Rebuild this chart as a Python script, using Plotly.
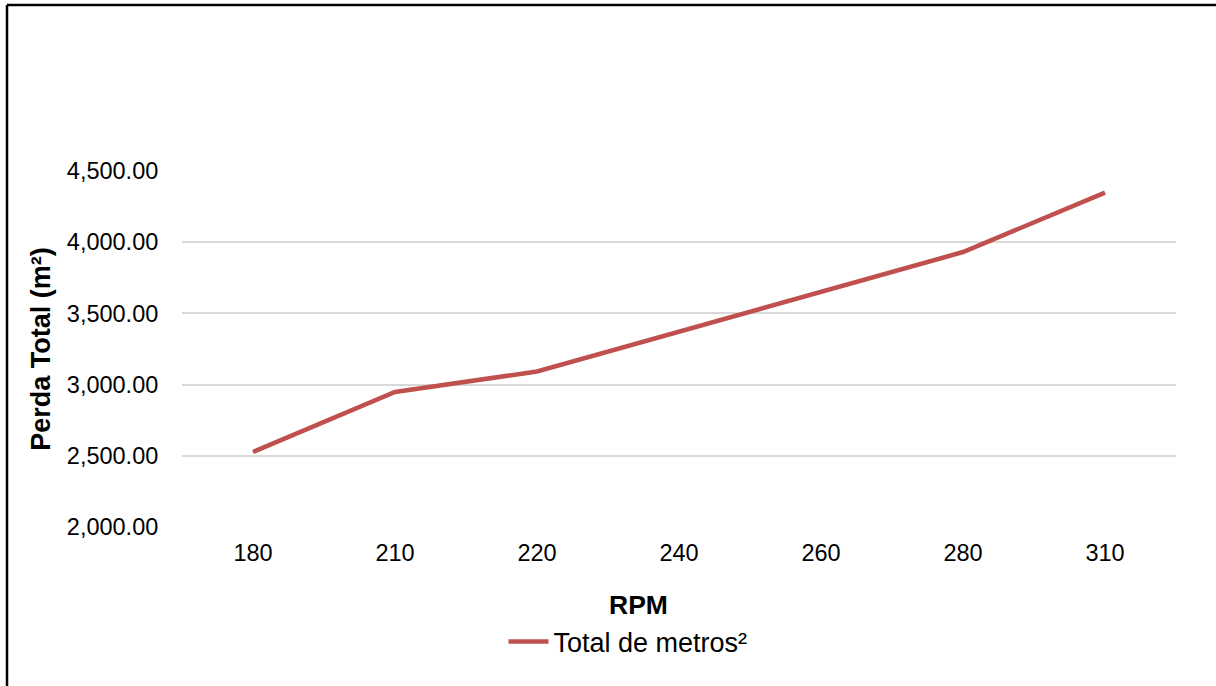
import plotly.graph_objects as go

# Rotational speed (RPM) categories and total loss in m²
rpm = ["180", "210", "220", "240", "260", "280", "310"]
perda_total = [2527, 2948, 3092, 3372, 3652, 3931, 4348]
y_ticks = [2000, 2500, 3000, 3500, 4000, 4500]
y_tick_labels = ["2,000.00", "2,500.00", "3,000.00", "3,500.00", "4,000.00", "4,500.00"]

W, H = 1216, 686
L, R, T, B = 182, 40, 171, 159
pw, ph = W - L - R, H - T - B

def px_x(px):
    return (px - L) / pw

def px_y(py):
    return (H - B - py) / ph

font = "Liberation Sans, Arial, sans-serif"
red = "#C0504D"

fig = go.Figure()
fig.add_trace(go.Scatter(
    x=rpm, y=perda_total, mode="lines", name="Total de metros²",
    line=dict(color=red, width=4.5),
))

fig.update_layout(
    width=W, height=H,
    margin=dict(l=L, r=R, t=T, b=B),
    paper_bgcolor="white", plot_bgcolor="white",
    font=dict(family=font, size=23.5, color="#000000"),
    showlegend=True,
    legend=dict(
        orientation="h", x=px_x(628), y=px_y(642), xanchor="center", yanchor="middle",
        font=dict(size=27), itemwidth=40,
    ),
    xaxis=dict(
        type="category", range=[-0.5, len(rpm) - 0.5],
        showgrid=False, zeroline=False, showline=False,
        ticks="outside", ticklen=5, tickcolor="rgba(0,0,0,0)",
    ),
    yaxis=dict(
        range=[2000, 4500], tickvals=y_ticks, ticktext=y_tick_labels,
        showgrid=True, gridcolor="#D9D9D9", gridwidth=1.5,
        zeroline=False, showline=False,
        ticks="outside", ticklen=18, tickcolor="rgba(0,0,0,0)",
        title=dict(text="<b>Perda Total (m²)</b>", font=dict(size=27), standoff=8),
    ),
    annotations=[
        # x-axis title, centred on the chart area rather than the plot area
        dict(text="<b>RPM</b>", xref="paper", yref="paper",
             x=px_x(638), y=px_y(605), xanchor="center", yanchor="middle",
             showarrow=False, font=dict(size=26.5)),
    ],
    shapes=[
        dict(type="line", xref="paper", yref="paper",
             x0=px_x(7), x1=px_x(W + 10), y0=px_y(5), y1=px_y(5),
             line=dict(color="black", width=2.5)),
        dict(type="line", xref="paper", yref="paper",
             x0=px_x(7), x1=px_x(7), y0=px_y(5), y1=px_y(H + 10),
             line=dict(color="black", width=2.5)),
    ],
)

fig.write_html("out.html")
